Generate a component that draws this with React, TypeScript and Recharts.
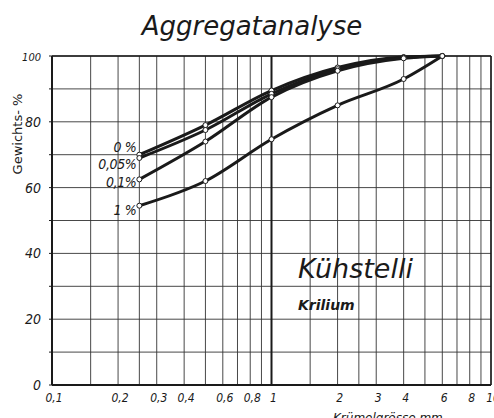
import React from 'react';
import { LineChart, Line, XAxis, YAxis, CartesianGrid, ReferenceLine, Customized } from 'recharts';

// Krümelgrösse (mm) of the measured points
const SIZES = [0.25, 0.5, 1, 2, 4, 6];
// Gewichts-% per Krilium dose
const KRILIUM_0 = [70, 79, 89.5, 96.5, 99.7, 100];
const KRILIUM_005 = [69, 77.5, 88.5, 96, 99.5, 100];
const KRILIUM_01 = [62.5, 74, 87.5, 95.5, 99.3, 100];
const KRILIUM_1 = [54.5, 62, 74.7, 85, 93, 100];

const X_GRID = [0.1, 0.15, 0.2, 0.25, 0.3, 0.4, 0.5, 0.6, 0.7, 0.8, 0.9, 1, 1.5, 2, 2.5, 3, 4, 5, 6, 7, 8, 9, 10];
const X_LABELS: Record<string, string> = {
  '0.1': '0,1', '0.2': '0,2', '0.3': '0,3', '0.4': '0,4', '0.6': '0,6', '0.8': '0,8',
  '1': '1', '2': '2', '3': '3', '4': '4', '6': '6', '8': '8', '10': '10',
};
const Y_GRID = [0, 10, 20, 30, 40, 50, 60, 70, 80, 90, 100];
const Y_LABELS = [0, 20, 40, 60, 80, 100];

const SERIES = [
  { key: 'k0', name: '0 %', values: KRILIUM_0, dy: -3 },
  { key: 'k005', name: '0,05%', values: KRILIUM_005, dy: 11 },
  { key: 'k01', name: '0,1%', values: KRILIUM_01, dy: 8 },
  { key: 'k1', name: '1 %', values: KRILIUM_1, dy: 9 },
];

const data = SIZES.map((size, i) => {
  const row: Record<string, number> = { size };
  SERIES.forEach(s => { row[s.key] = s.values[i]; });
  return row;
});

const FONT = '"DejaVu Sans", sans-serif';
const COND = '"DejaVu Sans Condensed", "DejaVu Sans", sans-serif';
const INK = '#1a1a1a';

const XTick = (props: any) => {
  const { x, y, payload } = props;
  const label = X_LABELS[String(payload.value)];
  if (!label) return null;
  return (
    <text x={x + 2} y={y + 9} textAnchor="middle" fontFamily={COND} fontSize={12} fontStyle="italic" fill={INK}>
      {label}
    </text>
  );
};

const YTick = (props: any) => {
  const { x, y, payload } = props;
  if (!Y_LABELS.includes(payload.value)) return null;
  const small = payload.value === 100;
  return (
    <text x={x - 6} y={y + 5} textAnchor="end" fontFamily={COND} fontSize={small ? 11 : 14} fontStyle="italic" fill={INK}>
      {payload.value}
    </text>
  );
};

const seriesLabel = (name: string, dy: number) => (props: any) => {
  const { x, y, index } = props;
  if (index !== 0) return null;
  return (
    <text x={x - 3} y={y + dy} textAnchor="end" fontFamily={COND} fontSize={14} fontStyle="italic" letterSpacing={-0.4} fill={INK}>
      {name}
    </text>
  );
};

const Texts = () => (
  <g fontFamily={FONT} fill={INK}>
    <text x={252} y={35} textAnchor="middle" fontSize={26} fontStyle="italic" fontWeight={500}>Aggregatanalyse</text>
    <text x={298} y={278} fontSize={27} fontStyle="italic" fontWeight={500}>Kühstelli</text>
    <text x={298} y={310} fontSize={14} fontStyle="italic" fontWeight={600}>Krilium</text>
    <text x={22} y={134} transform="rotate(-90 22 134)" textAnchor="middle" fontSize={13}>Gewichts-  %</text>
    <text x={333} y={422} fontSize={12} fontStyle="italic">Krümelgrösse    mm</text>
  </g>
);

export default function App() {
  return (
    <div style={{ position: 'absolute', left: 0, top: 0, background: '#fff' }}>
      <LineChart width={494} height={418} data={data} margin={{ top: 56, right: 3, left: 0, bottom: 0 }}>
        <CartesianGrid stroke="#333" strokeWidth={0.9} horizontalValues={Y_GRID} verticalValues={X_GRID} />
        <XAxis
          dataKey="size" type="number" scale="log" domain={[0.1, 10]} ticks={X_GRID}
          allowDataOverflow height={33} axisLine={false} tickLine={false} tick={<XTick />} interval={0}
        />
        <YAxis
          type="number" domain={[0, 100]} ticks={Y_GRID} width={52} interval={0}
          axisLine={false} tickLine={{ stroke: INK }} tickSize={3} tick={<YTick />}
        />
        <ReferenceLine x={0.1} stroke={INK} strokeWidth={2} />
        <ReferenceLine x={10} stroke={INK} strokeWidth={1.5} />
        <ReferenceLine x={1} stroke={INK} strokeWidth={2} />
        <ReferenceLine y={0} stroke={INK} strokeWidth={2} />
        <ReferenceLine y={100} stroke={INK} strokeWidth={1.5} />
        {SERIES.map(s => (
          <Line
            key={s.key}
            dataKey={s.key}
            type="monotone"
            stroke={INK}
            strokeWidth={3}
            dot={{ r: 2.5, fill: '#fff', stroke: INK, strokeWidth: 1 }}
            activeDot={false}
            isAnimationActive={false}
            label={seriesLabel(s.name, s.dy)}
          />
        ))}
        <Customized component={Texts} />
      </LineChart>
    </div>
  );
}
